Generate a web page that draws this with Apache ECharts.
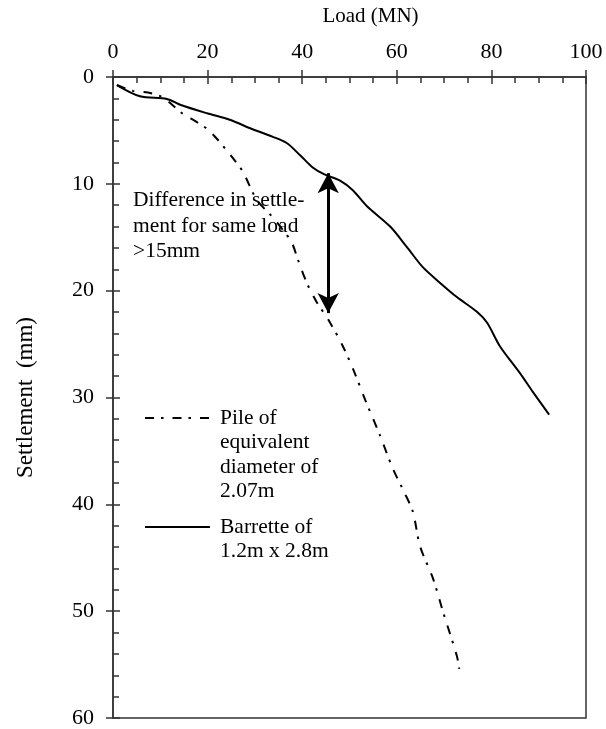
<!DOCTYPE html>
<html><head><meta charset="utf-8">
<script src="https://cdn.jsdelivr.net/npm/echarts@6/dist/echarts.min.js"></script>
<style>html,body{margin:0;padding:0;background:#fff}#c{width:606px;height:729px}</style>
</head><body><div id="c"></div>
<script>
// ---- data ----
const pileName = 'Pile of equivalent diameter of 2.07m';
const barretteName = 'Barrette of 1.2m x 2.8m';
const pileLoad   = [0.85, 4.2, 7.4, 10.4, 12.5, 14.8, 17.5, 19.9, 22.0, 23.9, 25.8, 27.5, 30.4, 33.5, 35.9, 37.8, 39.1, 41.0, 43.1, 45.5, 48.6, 51.0, 53.3, 56.4, 59.2, 61.5, 63.4, 64.9, 67.7, 69.8, 72.7, 73.2];
const pileSettle = [0.75, 1.3, 1.45, 1.87, 2.6, 3.46, 4.16, 4.86, 5.8, 6.8, 7.85, 8.9, 11.5, 13.0, 14.3, 15.5, 17.1, 19.3, 21.1, 22.7, 25.2, 27.6, 30.2, 33.5, 36.7, 38.8, 40.7, 43.9, 47.0, 50.1, 54.2, 55.4];
const barLoad   = [0.8, 5.7, 11.4, 14.2, 19.9, 24.7, 29.0, 33.8, 36.8, 39.5, 42.3, 44.6, 48.0, 50.7, 53.7, 58.6, 62.1, 65.5, 69.1, 72.7, 77.0, 79.1, 81.8, 86.0, 88.8, 92.2];
const barSettle = [0.75, 1.8, 2.05, 2.6, 3.4, 4.0, 4.8, 5.6, 6.2, 7.3, 8.5, 9.1, 9.7, 10.6, 12.1, 14.0, 15.9, 17.8, 19.25, 20.6, 22.0, 23.0, 25.2, 27.7, 29.5, 31.6];
const arrowLoad = 45.5;
const arrowSettle = [9.0, 22.1];
const xTicks = {min: 0, max: 100, interval: 20};
const yTicks = {min: 0, max: 60, interval: 10};
const noteText = 'Difference in settle-\nment for same load\n>15mm';
const legendPileText = 'Pile of\nequivalent\ndiameter of\n2.07m';
const legendBarText = 'Barrette of\n1.2m x 2.8m';

// ---- chart ----
const FONT = "'Liberation Serif', 'Times New Roman', serif";
const AX = '#333';
const zip = (a, b) => a.map((v, i) => [v, b[i]]);
const chart = echarts.init(document.getElementById('c'), null, {renderer: 'canvas'});
const baseX = {type: 'value', position: 'top', min: xTicks.min, max: xTicks.max, interval: xTicks.interval, splitLine: {show: false}};
const baseY = {type: 'value', inverse: true, position: 'left', min: yTicks.min, max: yTicks.max, interval: yTicks.interval, splitLine: {show: false}};
chart.setOption({
  animation: false,
  backgroundColor: '#fff',
  grid: {left: 113, right: 20, top: 77, bottom: 10, show: true, borderColor: AX, borderWidth: 1.5, backgroundColor: 'transparent'},
  xAxis: [
    Object.assign({}, baseX, {
      name: 'Load (MN)', nameLocation: 'middle', nameGap: 50,
      nameTextStyle: {fontFamily: FONT, fontSize: 21, color: '#000', padding: [0, 0, 0, 42]},
      axisLine: {show: true, lineStyle: {color: AX, width: 1.5}},
      axisTick: {show: true, inside: false, length: 7, lineStyle: {color: AX, width: 1.5}},
      axisLabel: {fontFamily: FONT, fontSize: 22, color: '#000', margin: 14}
    }),
    Object.assign({}, baseX, {
      axisLine: {show: false}, axisLabel: {show: false},
      axisTick: {show: true, inside: true, length: 7, lineStyle: {color: AX, width: 1.5}},
      minorTick: {show: true, splitNumber: 4, length: 6, lineStyle: {color: AX, width: 1.5}}
    })
  ],
  yAxis: [
    Object.assign({}, baseY, {
      name: 'Settlement  (mm)', nameLocation: 'middle', nameGap: 76, nameRotate: 90,
      nameTextStyle: {fontFamily: FONT, fontSize: 23, color: '#000'},
      axisLine: {show: true, lineStyle: {color: AX, width: 1.5}},
      axisTick: {show: true, inside: false, length: 7, lineStyle: {color: AX, width: 1.5}},
      axisLabel: {fontFamily: FONT, fontSize: 22, color: '#000', margin: 19}
    }),
    Object.assign({}, baseY, {
      axisLine: {show: false}, axisLabel: {show: false},
      axisTick: {show: true, inside: true, length: 7, lineStyle: {color: AX, width: 1.5}},
      minorTick: {show: true, splitNumber: 5, length: 6, lineStyle: {color: AX, width: 1.5}}
    })
  ],
  series: [
    {
      name: pileName, type: 'line', xAxisIndex: 0, yAxisIndex: 0,
      data: zip(pileLoad, pileSettle), showSymbol: false, symbol: 'none', smooth: 0.3,
      lineStyle: {color: '#000', width: 2, type: [9, 7, 2.5, 9]}
    },
    {
      name: barretteName, type: 'line', xAxisIndex: 0, yAxisIndex: 0,
      data: zip(barLoad, barSettle), showSymbol: false, symbol: 'none', smooth: 0.3,
      lineStyle: {color: '#000', width: 2, type: 'solid'},
      markLine: {
        silent: true, animation: false,
        symbol: ['arrow', 'arrow'], symbolSize: [16, 20],
        label: {show: false},
        lineStyle: {color: '#000', width: 3, type: 'solid'},
        data: [[{coord: [arrowLoad, arrowSettle[0]]}, {coord: [arrowLoad, arrowSettle[1]]}]]
      }
    }
  ],
  graphic: [
    {type: 'text', left: 133, top: 188, z: 10, style: {text: noteText, fontFamily: FONT, fontSize: 21.5, lineHeight: 25.5, fill: '#000'}},
    {type: 'line', z: 10, shape: {x1: 145, y1: 418, x2: 210, y2: 418}, style: {stroke: '#000', lineWidth: 2, lineDash: [9, 7, 2.5, 9]}},
    {type: 'text', left: 220, top: 406, z: 10, style: {text: legendPileText, fontFamily: FONT, fontSize: 21.5, lineHeight: 24.5, fill: '#000'}},
    {type: 'line', z: 10, shape: {x1: 145, y1: 527, x2: 210, y2: 527}, style: {stroke: '#000', lineWidth: 2}},
    {type: 'text', left: 220, top: 515, z: 10, style: {text: legendBarText, fontFamily: FONT, fontSize: 21.5, lineHeight: 24.5, fill: '#000'}}
  ]
});
</script>
</body></html>
